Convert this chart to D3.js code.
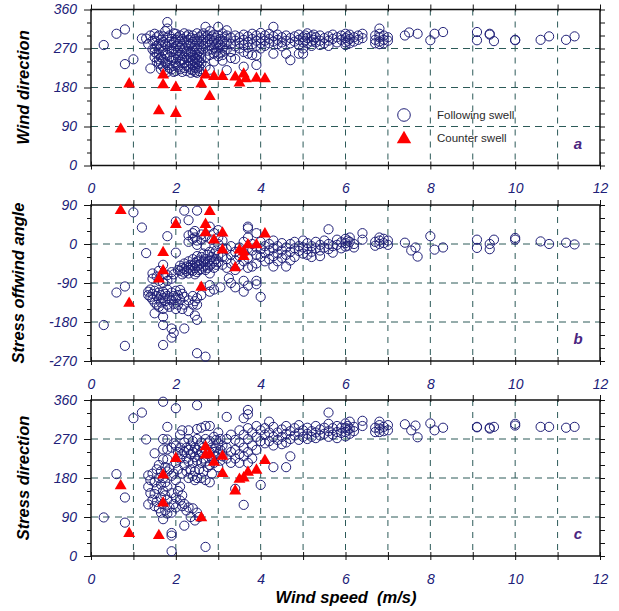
<!DOCTYPE html>
<html>
<head>
<meta charset="utf-8">
<script src="https://cdn.jsdelivr.net/npm/d3@7"></script>
<style>
  body { margin: 0; background: #fff; }
  svg text { font-family: "Liberation Sans", Arial, sans-serif; }
</style>
</head>
<body>
<div id="wrapper"></div>
<script>
// ---- data: [wind speed, [values at that speed]] ----
const windDirFollowing = [
  [0.3,[278]],[0.6,[304]],[0.8,[314,234]],[1.0,[245]],[1.2,[293]],[1.3,[293]],[1.35,[280]],[1.4,[224,300]],[1.45,[288,268]],
  [1.5,[304,288,270,262,250]],[1.55,[296,276,258,240]],[1.6,[300,281,268,258,245,235]],[1.65,[290,275,250,235,222]],
  [1.7,[298,285,265,245,228]],[1.75,[310,280,258,238,220]],[1.8,[331,316,295,275,255,232,216]],[1.85,[300,285,268,250,225]],
  [1.9,[292,278,262,242,222]],[1.95,[305,285,270,248,230,216]],[2.0,[304,290,275,260,245,235,218]],[2.05,[296,280,265,250,228]],
  [2.1,[300,286,272,255,240,222]],[2.15,[292,276,260,244,216]],[2.2,[305,288,270,252,236,225]],[2.25,[298,282,264,248,230,218]],
  [2.3,[302,290,276,258,242,228]],[2.35,[295,280,262,250,236,222,214]],[2.4,[300,285,268,255,244,232,220]],
  [2.45,[292,276,260,248,238,226,216]],[2.5,[305,288,270,256,245,235,224,214]],[2.55,[296,280,264,250,240,228,218]],
  [2.6,[300,286,272,260,248,236,222]],[2.65,[305,290,275]],[2.7,[320,296,282,250,228]],[2.75,[300,286,265]],
  [2.8,[310,292,278,255,221]],[2.85,[298,284,268]],[2.9,[302,288,272,258,240]],[2.95,[295,280,262]],
  [3.0,[320,300,285,270,252]],[3.05,[292,278,260]],[3.1,[305,288,272,255,242]],[3.15,[296,280,265]],
  [3.2,[312,300,284,268,220]],[3.3,[295,280,262,248]],[3.4,[300,288,275,246]],[3.5,[296,283,270]],
  [3.6,[302,290,278,262,228]],[3.7,[298,285,272,258]],[3.8,[304,292,280,255]],[3.9,[300,288,276,254,232]],
  [4.0,[306,294,282,270]],[4.1,[300,288,276]],[4.2,[304,292,282]],[4.3,[320,298,286,258]],[4.4,[302,290,280]],
  [4.5,[296,284,275]],[4.6,[300,288,258]],[4.7,[294,282,243]],[4.8,[298,286]],[4.9,[302,290,278,258]],
  [5.0,[296,284,270,258]],[5.05,[300,288]],[5.1,[305,294,282]],[5.2,[298,286,276]],[5.25,[302,290]],[5.3,[296,284]],
  [5.4,[300,288,278]],[5.5,[294,282]],[5.6,[298,288,276]],[5.7,[302,292]],[5.8,[296,284]],[5.9,[300,290]],
  [6.0,[304,294,284,278]],[6.05,[298,288]],[6.1,[302,292,282]],[6.2,[296,286]],[6.3,[300,290]],[6.4,[304,294]],
  [6.7,[300,290,282]],[6.8,[316,304,296,286,280]],[6.9,[300,290,282]],[7.0,[296,288]],
  [7.4,[300]],[7.5,[307]],[7.7,[304]],[8.0,[289]],[8.1,[304]],[8.3,[308]],[9.1,[308,289]],[9.4,[304,302]],[9.5,[287]],
  [10.0,[289,290]],[10.6,[290]],[10.8,[298]],[11.2,[290]],[11.4,[298]]
]
const windDirCounter = [
  [0.7,[84]],[0.9,[188]],[1.6,[126]],[1.7,[209,186]],[2.0,[180,120]],[2.6,[188]],[2.7,[209]],[2.8,[159]],[2.9,[205]],
  [3.1,[205]],[3.4,[204]],[3.5,[190]],[3.6,[211]],[3.65,[200]],[3.9,[201]],[4.1,[200]]
]

const offwindFollowing = [
  [0.3,[-187]],[0.6,[-112]],[0.8,[-98,-235]],[1.0,[73]],[1.2,[38]],[1.3,[-21]],[1.35,[-110,-118]],[1.4,[-105,-122]],
  [1.45,[-68,-80,-115,-128]],[1.5,[-108,-135,-160]],[1.55,[-75,-120,-140]],[1.6,[-62,-85,-112,-128,-145]],[1.65,[-118,-135]],
  [1.7,[-48,-70,-90,-110,-125,-150,-168,-187,-233]],[1.75,[-115,-132]],[1.8,[18,-72,-85,-105,-120,-140]],[1.85,[-128,-145]],
  [1.9,[-65,-80,-112,-130,-195,-216]],[1.95,[-70,-120,-138,-205]],[2.0,[52,-20,-108,-125,-150]],[2.05,[-60,-118,-140]],
  [2.1,[-50,-62,-106,-128]],[2.15,[-55,-70,-115,-150]],[2.2,[77,-45,-58,-66,-122,-140,-195]],[2.25,[-52,-62]],
  [2.3,[55,20,5,-40,-55,-68,-130,-155]],[2.35,[-48,-60]],[2.4,[25,12,-35,-50,-62,-120,-140]],
  [2.45,[30,15,-44,-56,-70,-132,-165]],[2.5,[77,8,-2,-28,-40,-52,-65,-125,-140,-175,-252]],[2.55,[-38,-48,-60]],
  [2.6,[22,10,-30,-45,-58,-118]],[2.65,[-22,-40,-52]],[2.7,[18,-5,-35,-48,-60,-260]],[2.75,[-25,-42,-55]],
  [2.8,[40,-18,-38,-50,-68,-95,-110]],[2.85,[10,-30,-45]],[2.9,[25,-22,-40,-55,-105]],[2.95,[-15,-35,-48]],
  [3.0,[32,15,0,-25,-42]],[3.05,[-100]],[3.1,[8,-10,-30,-48]],[3.2,[-12,-35,-55]],[3.25,[-79]],[3.3,[-5,-25,-45,-90]],
  [3.4,[-18,-38,-60,-100]],[3.5,[-8,-28,-50]],[3.6,[5,-20,-40,-85,-110]],[3.7,[40,36,15,-10,-32,-55,-96]],
  [3.8,[0,-15,-52]],[3.9,[25,-8,-25,-45,-85,-93]],[4.0,[5,-12,-30,-122]],[4.1,[-5,-20,-40]],[4.2,[0,-15,-35]],
  [4.3,[8,-10,-28,-52]],[4.4,[-5,-22,-40]],[4.5,[2,-15,-32]],[4.6,[-8,-25,-52]],[4.7,[0,-18,-38]],[4.8,[5,-10,-30]],
  [4.9,[-16,-5]],[5.0,[8,-8,-22]],[5.1,[2,-12,-25]],[5.2,[-5,-18,-30]],[5.3,[5,-10]],[5.4,[-2,-15,-28]],[5.5,[8,-8]],
  [5.6,[34,0,-12]],[5.7,[-5,-20]],[5.8,[10,-2]],[5.9,[4,-10]],[6.0,[12,2,-6]],[6.05,[8,-4]],[6.1,[15,5]],[6.2,[0,-8]],
  [6.4,[25,10]],[6.7,[5,-4]],[6.8,[15,8,0]],[6.9,[12,2]],[7.0,[8,-2]],
  [7.4,[3]],[7.55,[-15]],[7.65,[-8]],[7.7,[-29]],[8.0,[18]],[8.1,[-13]],[8.3,[-8]],[9.1,[10,-9]],[9.4,[0,-12]],[9.5,[10]],
  [10.0,[14,10]],[10.6,[6]],[10.8,[0]],[11.2,[3]],[11.4,[-1]]
]
const offwindCounter = [
  [0.7,[77]],[0.9,[-137]],[1.6,[-81]],[1.7,[-20,-62]],[2.0,[45]],[2.6,[-100]],[2.7,[45,26]],[2.8,[75]],[2.9,[9]],
  [3.1,[25,-14]],[3.4,[-55]],[3.5,[-14]],[3.6,[-29,-18]],[3.7,[-2]],[3.9,[-2]],[4.1,[23]]
]

const stressDirFollowing = [
  [0.3,[89]],[0.6,[189]],[0.8,[135,77]],[1.0,[318]],[1.2,[331]],[1.3,[269]],[1.35,[186,160,119]],[1.4,[175,145]],
  [1.45,[190,130]],[1.5,[237,170,143,115]],[1.55,[200,155,125]],[1.6,[210,180,110]],[1.65,[195,165,135,100]],
  [1.7,[356,270,246,223,180,150,120,85]],[1.75,[205,170,140,105]],[1.8,[298,269,246,223,195,160,130,98]],[1.85,[200,112]],
  [1.9,[250,185,145,100,53,47,11]],[1.95,[260,190,120]],[2.0,[341,255,215,175,135,112]],[2.05,[240,200,150]],
  [2.1,[280,250,225,160,128]],[2.15,[290,235,190,140,115]],[2.2,[262,240,210,120,70]],[2.25,[250,225,195,105]],
  [2.3,[290,270,245,218,180,112]],[2.35,[255,235,200,90]],[2.4,[265,240,215,185,110]],[2.45,[250,228,195,175,82]],
  [2.5,[348,293,270,245,220,180,100]],[2.55,[255,232,200,90]],[2.6,[296,262,240,215,180]],[2.65,[250,225,195]],
  [2.7,[300,270,245,218,175,21]],[2.75,[260,235,205]],[2.8,[300,265,240,210,170]],[2.85,[250,225,190]],
  [2.9,[275,240,215]],[2.95,[268,250,230]],[3.0,[285,260,235,205]],[3.05,[270,245,220]],[3.1,[255,230]],
  [3.2,[321,270,250,225]],[3.3,[280,240,215]],[3.4,[268,245,225,155]],[3.5,[290,262,235,215]],
  [3.6,[318,280,250,230,118]],[3.7,[337,327,295,270,240,215]],[3.8,[285,255,225]],[3.9,[300,275,245]],
  [4.0,[290,265,164]],[4.1,[295,280,260]],[4.2,[310,285,265]],[4.3,[298,275,255,205]],[4.4,[285,268]],
  [4.5,[292,275,258]],[4.6,[300,282,262,205]],[4.7,[288,270,230]],[4.8,[295,278]],[4.9,[302,285,268]],[5.0,[290,275]],
  [5.1,[296,282,270]],[5.2,[288,275]],[5.3,[300,285,272]],[5.4,[292,278]],[5.5,[296,282]],[5.6,[331,305,288,275]],
  [5.7,[295,280]],[5.8,[300,286,272]],[5.9,[296,284]],[6.0,[306,296,286,276]],[6.05,[300,290]],[6.1,[310,294,282]],
  [6.2,[298,288]],[6.4,[312,300]],[6.7,[296,286]],[6.8,[310,302,294,286]],[6.9,[298,288]],[7.0,[302,290]],
  [7.4,[304]],[7.55,[290]],[7.65,[301]],[7.7,[274]],[8.0,[306]],[8.1,[290]],[8.3,[296]],[9.1,[298,297]],[9.4,[296,294]],
  [9.5,[298]],[10.0,[305,301]],[10.6,[298]],[10.8,[298]],[11.2,[296]],[11.4,[298]]
]
const stressDirCounter = [
  [0.7,[162]],[0.9,[52]],[1.6,[47]],[1.7,[187,122]],[2.0,[225]],[2.6,[88]],[2.7,[252,233]],[2.8,[235]],[2.9,[216]],
  [3.1,[230,190]],[3.4,[150]],[3.5,[177]],[3.6,[180]],[3.7,[193]],[3.9,[198]],[4.1,[220]]
]

// ---- ticks and labels ----
const speedTicks = [0,1,2,3,4,5,6,7,8,9,10,11,12]
const speedLabels = [0,2,4,6,8,10,12]
const speedGrid = [1,2,3,4,5,6,7,8,9,10,11]
const dirTicks = [0,30,60,90,120,150,180,210,240,270,300,330,360]
const dirLabels = [0,90,180,270,360]
const dirGrid = [90,180,270]
const offwindTicks = [-270,-240,-210,-180,-150,-120,-90,-60,-30,0,30,60,90]
const offwindLabels = [-270,-180,-90,0,90]
const offwindGrid = [-180,-90,0]
const legendItems = ["Following swell", "Counter swell"]

const flatten = groups => groups.flatMap(([s, vals]) => vals.map(v => ({speed: s, value: v})))

const dims = { width: 619, height: 611, left: 91, right: 600, panelHeight: 156 }
const navy = "#202078"
const gridColor = "#2c5a58"

const svg = d3.select("#wrapper").append("svg")
  .attr("width", dims.width)
  .attr("height", dims.height)

const x = d3.scaleLinear().domain([0, 12]).range([dims.left, dims.right])

const panels = [
  { letter: "a", top: 9.5, title: "Wind direction", titleX: 29, domain: [0, 360], ticks: dirTicks, labels: dirLabels,
    grid: dirGrid, following: windDirFollowing, counter: windDirCounter, legend: true },
  { letter: "b", top: 205, title: "Stress offwind angle", titleX: 24, domain: [-270, 90], ticks: offwindTicks,
    labels: offwindLabels, grid: offwindGrid, following: offwindFollowing, counter: offwindCounter },
  { letter: "c", top: 400, title: "Stress direction", titleX: 29, domain: [0, 360], ticks: dirTicks, labels: dirLabels,
    grid: dirGrid, following: stressDirFollowing, counter: stressDirCounter }
]

const triangle = d3.symbol().type(d3.symbolTriangle).size(62)

function styleLabels(sel) {
  sel.selectAll("text")
    .attr("fill", navy)
    .attr("font-size", 14)
    .attr("font-style", "italic")
    .attr("font-family", "'Liberation Sans', Arial, sans-serif")
}

function drawPanel(p) {
  const bottom = p.top + dims.panelHeight
  const y = d3.scaleLinear().domain(p.domain).range([bottom, p.top])
  const g = svg.append("g")

  // dashed grid
  g.selectAll(".vgrid").data(speedGrid).join("line")
    .attr("x1", d => x(d)).attr("x2", d => x(d))
    .attr("y1", p.top).attr("y2", bottom)
    .attr("stroke", gridColor).attr("stroke-dasharray", "6,6")
  g.selectAll(".hgrid").data(p.grid).join("line")
    .attr("x1", dims.left).attr("x2", dims.right)
    .attr("y1", d => y(d)).attr("y2", d => y(d))
    .attr("stroke", gridColor).attr("stroke-dasharray", "7,5")

  // axes
  const left = g.append("g").attr("transform", `translate(${dims.left},0)`)
    .call(d3.axisLeft(y).tickValues(p.ticks).tickSize(4).tickPadding(10)
      .tickFormat(d => p.labels.includes(d) ? d : ""))
  left.selectAll(".tick line").attr("x2", d => p.labels.includes(d) ? -7 : -4)
  styleLabels(left)

  g.append("g").attr("transform", `translate(${dims.right},0)`)
    .call(d3.axisRight(y).tickValues(p.ticks).tickSize(5).tickFormat(""))

  const bottomAxis = g.append("g").attr("transform", `translate(0,${bottom})`)
    .call(d3.axisBottom(x).tickValues(speedTicks).tickSize(4)
      .tickFormat(d => speedLabels.includes(d) ? d : ""))
  bottomAxis.selectAll(".tick line").attr("y1", -4)
  bottomAxis.selectAll(".tick text").attr("y", 18)
  styleLabels(bottomAxis)

  const topAxis = g.append("g").attr("transform", `translate(0,${p.top})`)
    .call(d3.axisTop(x).tickValues(speedTicks).tickSize(5).tickFormat(""))
  topAxis.selectAll(".tick line").attr("y1", 2)

  g.selectAll(".domain").remove()
  g.selectAll(".tick line").attr("stroke", "#111")

  // frame
  g.append("rect")
    .attr("x", dims.left).attr("y", p.top)
    .attr("width", dims.right - dims.left).attr("height", dims.panelHeight)
    .attr("fill", "none").attr("stroke", "#111").attr("stroke-width", 1.5)

  // points
  g.append("g").selectAll("circle").data(flatten(p.following)).join("circle")
    .attr("cx", d => x(d.speed)).attr("cy", d => y(d.value)).attr("r", 4.6)
    .attr("fill", "none").attr("stroke", navy).attr("stroke-width", 1)

  g.append("g").selectAll("path").data(flatten(p.counter)).join("path")
    .attr("transform", d => `translate(${x(d.speed)},${y(d.value)})`)
    .attr("d", triangle).attr("fill", "#ff0000")

  // y title
  g.append("text")
    .attr("transform", `translate(${p.titleX},${(p.top + bottom) / 2}) rotate(-90)`)
    .attr("text-anchor", "middle")
    .attr("font-size", 16.5).attr("font-weight", "bold").attr("font-style", "italic")
    .text(p.title)

  // panel letter
  g.append("text")
    .attr("x", 578).attr("y", bottom - 17)
    .attr("text-anchor", "middle")
    .attr("font-family", "'Liberation Serif', 'Times New Roman', serif")
    .attr("font-size", 15).attr("font-weight", "bold").attr("font-style", "italic")
    .attr("fill", "#4a2580")
    .text(p.letter)

  if (p.legend) {
    const lg = g.append("g")
    lg.append("circle").attr("cx", 404).attr("cy", 115).attr("r", 6.3)
      .attr("fill", "none").attr("stroke", navy).attr("stroke-width", 1)
    lg.append("path").attr("transform", "translate(404,139)")
      .attr("d", d3.symbol().type(d3.symbolTriangle).size(90)).attr("fill", "#ff0000")
    lg.selectAll("text").data(legendItems).join("text")
      .attr("x", 437).attr("y", (d, i) => 119 + i * 23)
      .attr("font-size", 11.5).attr("fill", "#2a2a2a")
      .text(d => d)
  }
}

panels.forEach(drawPanel)

// x title
svg.append("text")
  .attr("x", 346).attr("y", 603)
  .attr("text-anchor", "middle")
  .attr("font-size", 16.5).attr("font-weight", "bold").attr("font-style", "italic")
  .style("white-space", "pre")
  .text("Wind speed  (m/s)")
</script>
</body>
</html>
